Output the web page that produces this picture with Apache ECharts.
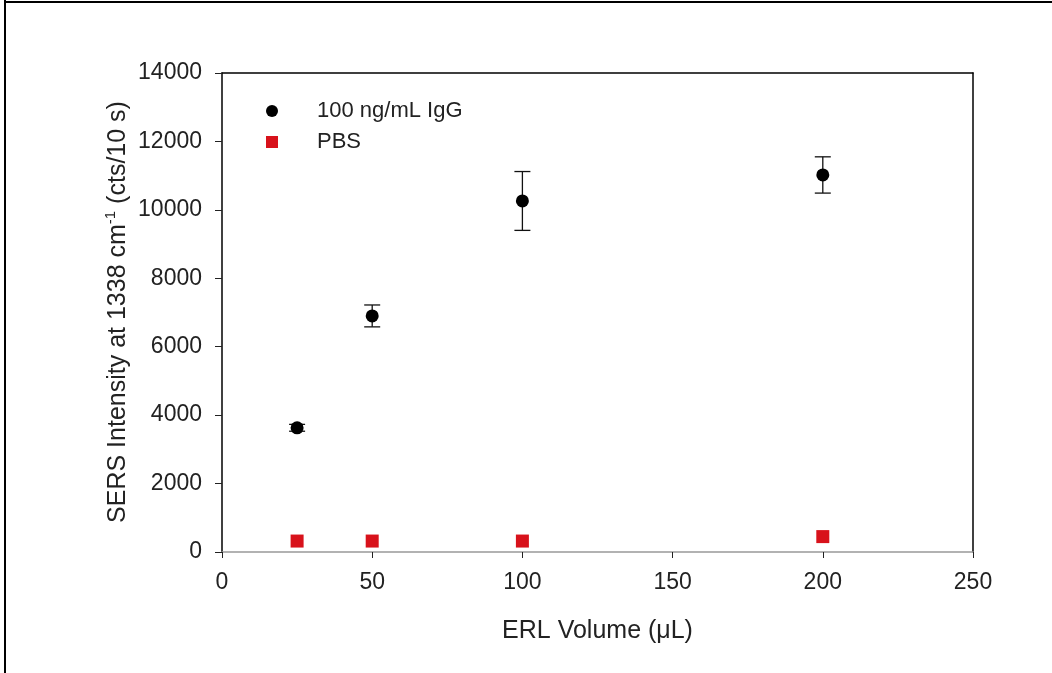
<!DOCTYPE html>
<html>
<head>
<meta charset="utf-8">
<script src="https://cdn.jsdelivr.net/npm/echarts@6/dist/echarts.min.js"></script>
<style>html,body{margin:0;padding:0;background:#fff;}#c{width:1052px;height:673px;}</style>
</head>
<body>
<div id="c"></div>
<script>
const xVolumes = [25, 50, 100, 200];
const iggMean = [3630, 6900, 10260, 11020];
const iggErr = [100, 320, 860, 530];
const pbsMean = [320, 320, 320, 450];
const xTicks = [0, 50, 100, 150, 200, 250];
const yTicks = [0, 2000, 4000, 6000, 8000, 10000, 12000, 14000];
const yTitle = 'SERS Intensity at 1338 cm{sup|-1} (cts/10 s)';
const xTitle = 'ERL Volume (\u03bcL)';
const seriesNames = ['100 ng/mL IgG', 'PBS'];

const font = 'Liberation Sans, Arial, sans-serif';
const iggData = xVolumes.map((x, i) => [x, iggMean[i]]);
const pbsData = xVolumes.map((x, i) => [x, pbsMean[i]]);
const iggErrData = xVolumes.map((x, i) => [x, iggMean[i] - iggErr[i], iggMean[i] + iggErr[i]]);

function errRender(params, api) {
  const x = api.value(0);
  const lo = api.coord([x, api.value(1)]);
  const hi = api.coord([x, api.value(2)]);
  const w = 8;
  const style = { stroke: '#111', lineWidth: 1.3 };
  return {
    type: 'group',
    children: [
      { type: 'line', shape: { x1: lo[0], y1: lo[1], x2: hi[0], y2: hi[1] }, style },
      { type: 'line', shape: { x1: lo[0] - w, y1: lo[1], x2: lo[0] + w, y2: lo[1] }, style },
      { type: 'line', shape: { x1: hi[0] - w, y1: hi[1], x2: hi[0] + w, y2: hi[1] }, style }
    ]
  };
}

const chart = echarts.init(document.getElementById('c'));
chart.setOption({
  backgroundColor: '#fff',
  animation: false,
  grid: { left: 222, right: 79, top: 73, bottom: 121 },
  legend: {
    orient: 'vertical',
    left: 261,
    top: 95,
    itemWidth: 12,
    itemHeight: 12,
    itemGap: 9,
    data: [
      { name: seriesNames[0], icon: 'circle' },
      { name: seriesNames[1], icon: 'rect' }
    ],
    textStyle: { fontFamily: font, fontSize: 22, lineHeight: 19, color: '#222', padding: [0, 0, 0, 34] }
  },
  graphic: [
    { type: 'line', shape: { x1: 5, y1: 0, x2: 5, y2: 673 }, style: { stroke: '#000', lineWidth: 2 } },
    { type: 'line', shape: { x1: 4, y1: 2, x2: 1052, y2: 2 }, style: { stroke: '#000', lineWidth: 2 } },
    {
      type: 'text', x: 118, y: 312, rotation: Math.PI / 2, z: 10,
      style: {
        text: yTitle, fontFamily: font, fontSize: 25, fill: '#222',
        align: 'center', verticalAlign: 'middle',
        rich: { sup: { fontFamily: font, fontSize: 15, fill: '#222', padding: [0, 0, 14, 0] } }
      }
    }
  ],
  xAxis: [{
    type: 'value', min: 0, max: 250, interval: 50,
    name: xTitle,
    nameLocation: 'middle', nameGap: 67,
    nameTextStyle: { fontFamily: font, fontSize: 25, color: '#222' },
    axisLine: { show: true, onZero: false, lineStyle: { color: '#999', width: 1.5 } },
    axisTick: { show: true, length: 6, lineStyle: { color: '#222', width: 1 } },
    axisLabel: { fontFamily: font, fontSize: 23, color: '#222', margin: 19,
      formatter: v => xTicks.includes(v) ? String(v) : '' },
    splitLine: { show: false }
  }, {
    type: 'value', min: 0, max: 250, position: 'top',
    axisLine: { show: true, onZero: false, lineStyle: { color: '#000', width: 1.5 } },
    axisTick: { show: false }, axisLabel: { show: false }, splitLine: { show: false }
  }],
  yAxis: [{
    type: 'value', min: 0, max: 14000, interval: 2000,
    axisLine: { show: true, onZero: false, lineStyle: { color: '#000', width: 1.5 } },
    axisTick: { show: true, length: 7, lineStyle: { color: '#222', width: 1 } },
    axisLabel: { fontFamily: font, fontSize: 23, color: '#222', margin: 20,
      formatter: v => yTicks.includes(v) ? String(v) : '' },
    splitLine: { show: false }
  }, {
    type: 'value', min: 0, max: 14000, position: 'right',
    axisLine: { show: true, onZero: false, lineStyle: { color: '#000', width: 1.5 } },
    axisTick: { show: false }, axisLabel: { show: false }, splitLine: { show: false }
  }],
  series: [
    {
      type: 'custom', name: 'IgG err', renderItem: errRender, data: iggErrData,
      encode: { x: 0, y: [1, 2] }, z: 2, silent: true
    },
    {
      name: seriesNames[0], type: 'scatter', data: iggData,
      symbol: 'circle', symbolSize: 13, itemStyle: { color: '#000', opacity: 1 }, z: 3
    },
    {
      name: seriesNames[1], type: 'scatter', data: pbsData,
      symbol: 'rect', symbolSize: 13, itemStyle: { color: '#d8121b', opacity: 1 }, z: 3
    }
  ]
});
</script>
</body>
</html>
